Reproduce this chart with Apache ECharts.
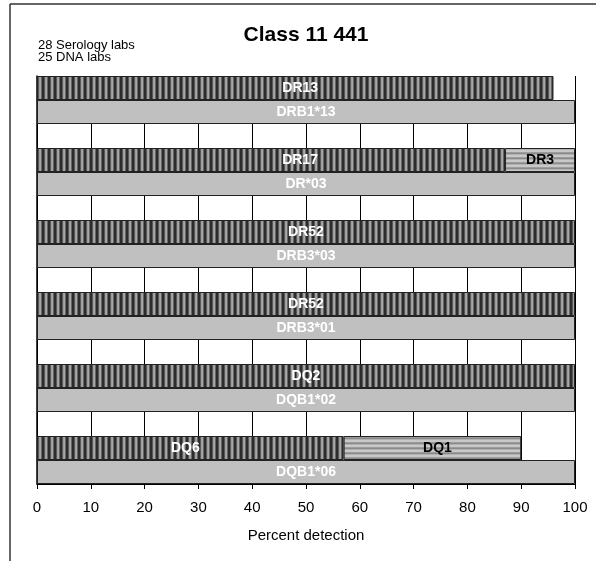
<!DOCTYPE html>
<html><head><meta charset="utf-8">
<script src="https://cdn.jsdelivr.net/npm/echarts@6/dist/echarts.min.js"></script>
<style>html,body{margin:0;padding:0;background:#fff}#c{width:596px;height:561px}</style>
</head><body><div id="c"></div>
<script>
// ---- data ----
const titleText = 'Class 11 441';
const noteLines = ['28 Serology labs', '25 DNA labs'];
const serologyNames = ['DR13', 'DR17', 'DR52', 'DR52', 'DQ2', 'DQ6'];
const serologyValues = [96, 87, 100, 100, 100, 57];
const secondNames = ['', 'DR3', '', '', '', 'DQ1'];
const secondValues = [0, 13, 0, 0, 0, 33];
const dnaNames = ['DRB1*13', 'DR*03', 'DRB3*03', 'DRB3*01', 'DQB1*02', 'DQB1*06'];
const dnaValues = [100, 100, 100, 100, 100, 100];
const xTicks = [0, 10, 20, 30, 40, 50, 60, 70, 80, 90, 100];
const xAxisName = 'Percent detection';

// ---- styling: label nudges (px) as placed in the original figure ----
const serologyLabelNudge = { DR13: 5, DR17: 29, DQ6: -5 };
const secondLabelNudge = { DQ1: 5 };

// ---- build rows (serology row, DNA row, spacer row per group) ----
const rows = [], rowGroup = [];
const sData = [], s2Data = [], dData = [];
function item(v, name, nudge) {
  const o = { value: v };
  if (nudge && nudge[name]) o.label = { offset: [nudge[name], 0] };
  return o;
}
serologyNames.forEach((n, i) => {
  rows.push('s' + i); rowGroup.push(i);
  sData.push(item(serologyValues[i], n, serologyLabelNudge));
  s2Data.push(secondValues[i] > 0 ? item(secondValues[i], secondNames[i], secondLabelNudge) : '-');
  dData.push('-');
  rows.push('d' + i); rowGroup.push(i);
  sData.push('-'); s2Data.push('-'); dData.push(dnaValues[i]);
  if (i < serologyNames.length - 1) {
    rows.push('g' + i); rowGroup.push(i);
    sData.push('-'); s2Data.push('-'); dData.push('-');
  }
});

function stripeCanvas(cols, vertical) {
  const c = document.createElement('canvas');
  const n = cols.length;
  c.width = vertical ? n : 4; c.height = vertical ? 4 : n;
  const ctx = c.getContext('2d');
  cols.forEach((col, k) => {
    ctx.fillStyle = col;
    if (vertical) ctx.fillRect(k, 0, 1, 4); else ctx.fillRect(0, k, 4, 1);
  });
  return c;
}
const vStripe = stripeCanvas(['#2c2c2c', '#2c2c2c', '#5a5a5a', '#9c9c9c', '#a8a8a8', '#666666'], true);
const hStripe = stripeCanvas(['#c8c8c8', '#c8c8c8', '#9c9c9c', '#8a8a8a', '#b2b2b2'], false);

const FONT = "'Liberation Sans', Arial, sans-serif";
const labelBase = { show: true, position: 'inside', fontFamily: FONT, fontWeight: 'bold', fontSize: 14 };

const chart = echarts.init(document.getElementById('c'), null, { renderer: 'canvas' });
chart.setOption({
  animation: false,
  backgroundColor: '#fff',
  textStyle: { fontFamily: FONT },
  graphic: [
    { type: 'line', shape: { x1: 10, y1: 4, x2: 596, y2: 4 }, style: { stroke: '#333', lineWidth: 1.5 } },
    { type: 'line', shape: { x1: 10, y1: 4, x2: 10, y2: 561 }, style: { stroke: '#333', lineWidth: 1.5 } },
    { type: 'text', x: 306, y: 35, style: { text: titleText, font: "bold 21px 'Liberation Sans', Arial, sans-serif", fill: '#000', textAlign: 'center', textVerticalAlign: 'middle' } },
    { type: 'text', left: 38, top: 39, style: { text: noteLines.join('\n'), font: "13px 'Liberation Sans', Arial, sans-serif", lineHeight: 12, fill: '#000' } }
  ],
  grid: { left: 37, right: 21, top: 76, bottom: 77, containLabel: false },
  xAxis: {
    type: 'value', min: 0, max: 100, interval: 10,
    name: xAxisName, nameLocation: 'middle', nameGap: 44,
    nameTextStyle: { color: '#000', fontSize: 15, fontFamily: FONT },
    axisLine: { show: true, lineStyle: { color: '#000', width: 1 } },
    axisTick: { show: true, length: 5, lineStyle: { color: '#000' } },
    axisLabel: { color: '#000', fontSize: 15, margin: 16, fontFamily: FONT,
      formatter: v => xTicks.includes(v) ? String(v) : '' },
    splitLine: { show: true, lineStyle: { color: '#000', width: 1 } }
  },
  yAxis: {
    type: 'category', data: rows, inverse: true,
    axisLine: { show: true, lineStyle: { color: '#000', width: 1.5 } },
    axisTick: { show: false }, axisLabel: { show: false }, splitLine: { show: false }
  },
  series: [
    {
      type: 'bar', stack: 'a', data: sData, barWidth: '100%', barCategoryGap: 0,
      itemStyle: { color: { image: vStripe, repeat: 'repeat' }, borderColor: '#222', borderWidth: 1 },
      label: Object.assign({}, labelBase, { color: '#fff', formatter: p => serologyNames[rowGroup[p.dataIndex]] })
    },
    {
      type: 'bar', stack: 'a', data: s2Data, barWidth: '100%',
      itemStyle: { color: { image: hStripe, repeat: 'repeat' }, borderColor: '#222', borderWidth: 1 },
      label: Object.assign({}, labelBase, { color: '#000', formatter: p => secondNames[rowGroup[p.dataIndex]] })
    },
    {
      type: 'bar', stack: 'a', data: dData, barWidth: '100%',
      itemStyle: { color: '#c0c0c0', borderColor: '#222', borderWidth: 1 },
      label: Object.assign({}, labelBase, { color: '#fff', formatter: p => dnaNames[rowGroup[p.dataIndex]] })
    }
  ]
});
</script>
</body></html>
